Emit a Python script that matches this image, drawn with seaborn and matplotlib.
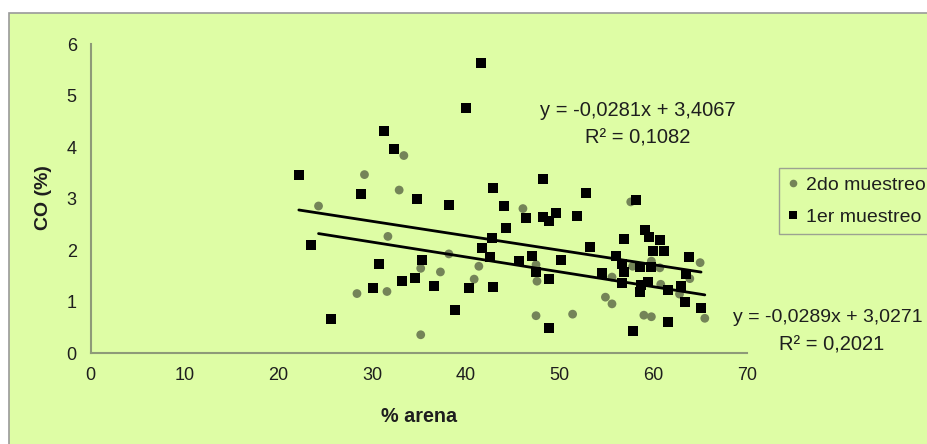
import matplotlib
matplotlib.use("Agg")
import matplotlib.pyplot as plt
import pandas as pd
import seaborn as sns
from matplotlib.patches import Rectangle
from matplotlib.lines import Line2D

# % arena vs CO (%) — first sampling (squares)
arena_1er = [22.2, 23.5, 25.6, 28.8, 30.1, 30.8, 31.3, 32.3, 33.2, 34.6,
             34.8, 35.3, 36.6, 38.2, 38.9, 40.0, 40.3, 41.6, 41.7, 42.6,
             42.8, 42.9, 42.9, 44.1, 44.3, 45.7, 46.4, 47.1, 47.5, 48.2,
             48.2, 48.9, 48.9, 48.9, 49.6, 50.2, 51.9, 52.8, 53.3, 54.5,
             56.0, 56.7, 56.9, 56.7, 56.9, 57.8, 58.2, 58.6, 58.7, 58.6,
             59.1, 59.5, 60.7, 60.0, 61.2, 59.8, 59.4, 61.6, 61.6, 63.0,
             63.4, 63.5, 63.8, 65.1]
co_1er = [3.47, 2.10, 0.67, 3.09, 1.26, 1.73, 4.31, 3.96, 1.40, 1.46,
          3.00, 1.81, 1.31, 2.88, 0.85, 4.77, 1.26, 5.63, 2.04, 1.87,
          2.24, 3.21, 1.29, 2.86, 2.44, 1.79, 2.62, 1.89, 1.58, 3.38,
          2.65, 2.57, 1.44, 0.50, 2.72, 1.81, 2.66, 3.12, 2.07, 1.55,
          1.89, 1.73, 1.58, 1.36, 2.22, 0.44, 2.97, 1.68, 1.32, 1.19,
          2.39, 2.25, 2.20, 1.98, 1.98, 1.68, 1.39, 1.23, 0.61, 1.31,
          1.00, 1.54, 1.87, 0.88]

# second sampling (circles)
arena_2do = [24.3, 28.4, 29.2, 31.6, 31.7, 32.9, 33.4, 35.2, 35.2, 37.3,
             38.2, 40.9, 41.4, 46.1, 47.5, 47.6, 47.5, 51.4, 54.9, 55.6,
             55.6, 57.6, 57.8, 59.0, 59.8, 59.8, 60.7, 60.8, 62.8, 63.9,
             65.0, 65.5]
co_2do = [2.86, 1.16, 3.47, 1.20, 2.27, 3.17, 3.84, 1.65, 0.36, 1.58,
          1.93, 1.44, 1.69, 2.81, 1.72, 1.40, 0.73, 0.76, 1.09, 0.96,
          1.48, 2.94, 1.69, 0.74, 0.71, 1.79, 1.66, 1.34, 1.15, 1.45,
          1.76, 0.68]

# linear trend lines (slope, intercept, R²)
slope_1er, inter_1er, r2_1er = -0.0281, 3.4067, 0.1082
slope_2do, inter_2do, r2_2do = -0.0289, 3.0271, 0.2021

label_1er = "1er muestreo"
label_2do = "2do muestreo"
x_ticks = [0, 10, 20, 30, 40, 50, 60, 70]
y_ticks = [0, 1, 2, 3, 4, 5, 6]

df_1er = pd.DataFrame({"arena": arena_1er, "co": co_1er})
df_2do = pd.DataFrame({"arena": arena_2do, "co": co_2do})

sns.set_style("white")
plt.rcParams["font.family"] = ["Liberation Sans", "DejaVu Sans"]

W, H = 928, 444
BG = "#DEFDA5"
AXIS_C = "#8E9A78"
TEXT_C = "#1e1e1e"
CIRCLE_C = "#748458"

fig = plt.figure(figsize=(W / 100, H / 100), dpi=100, facecolor="white")
fig.patches.append(Rectangle((9.5 / W, -0.2), 1.2, 1.2 - 13.5 / H,
                             transform=fig.transFigure, facecolor=BG,
                             edgecolor="#9a9a9a", lw=1.2, zorder=-10))

ax = fig.add_axes([90.7 / W, 1 - 353.3 / H, (747 - 90.7) / W, (353.3 - 44.3) / H])
ax.set_facecolor("none")
ax.patch.set_visible(False)

sns.scatterplot(data=df_2do, x="arena", y="co", ax=ax, marker="o", s=40,
                color=CIRCLE_C, edgecolor="none", linewidth=0, zorder=3)
sns.scatterplot(data=df_1er, x="arena", y="co", ax=ax, marker="s", s=48,
                color="black", edgecolor="black", linewidth=0, zorder=4)

for df, m, b in ((df_1er, slope_1er, inter_1er), (df_2do, slope_2do, inter_2do)):
    xs = [df["arena"].min(), df["arena"].max()]
    line = pd.DataFrame({"arena": xs, "co": [m * v + b for v in xs]})
    sns.lineplot(data=line, x="arena", y="co", ax=ax, color="black",
                 lw=2.0, zorder=5)

ax.set_xlim(0, 70)
ax.set_ylim(0, 6)
ax.set_xticks(x_ticks)
ax.set_yticks(y_ticks)
ax.tick_params(axis="both", which="major", direction="out", length=5,
               width=1.2, color=AXIS_C, labelsize=13, labelcolor=TEXT_C, pad=5)
for side in ("top", "right"):
    ax.spines[side].set_visible(False)
for side in ("left", "bottom"):
    ax.spines[side].set_color(AXIS_C)
    ax.spines[side].set_linewidth(1.5)

ax.set_xlabel("")
ax.set_ylabel("")
fig.text(419.5 / W, 1 - 416 / H, "% arena", ha="center", va="center",
         fontsize=14.2, fontweight="bold", color=TEXT_C)
fig.text(43.3 / W, 1 - 197.5 / H, "CO (%)", ha="center", va="center",
         rotation=90, fontsize=14, fontweight="bold", color=TEXT_C)


def fmt(v):
    return f"{v:.4f}".replace(".", ",")


EQ_FS = 14.5
fig.text(638 / W, 1 - 111 / H, f"y = {fmt(slope_1er)}x + {fmt(inter_1er)}",
         ha="center", va="center", fontsize=EQ_FS, color=TEXT_C)
fig.text(638 / W, 1 - 138 / H, f"R² = {fmt(r2_1er)}",
         ha="center", va="center", fontsize=EQ_FS, color=TEXT_C)
fig.text(923 / W, 1 - 317 / H, f"y = {fmt(slope_2do)}x + {fmt(inter_2do)}",
         ha="right", va="center", fontsize=14, color=TEXT_C)
fig.text(832 / W, 1 - 345 / H, f"R² = {fmt(r2_2do)}",
         ha="center", va="center", fontsize=EQ_FS, color=TEXT_C)

handles = [
    Line2D([], [], marker="o", ls="none", markersize=5.5, color=CIRCLE_C,
           markeredgewidth=0),
    Line2D([], [], marker="s", ls="none", markersize=6, color="black",
           markeredgewidth=0),
]
leg = fig.legend(handles, [label_2do, label_1er], loc="upper left",
                 bbox_to_anchor=(779.5 / W, 1 - 168.5 / H),
                 bbox_transform=fig.transFigure, frameon=True, fancybox=False,
                 fontsize=14, handlelength=0.6, handletextpad=0.35,
                 borderpad=0.42, labelspacing=0.72, borderaxespad=0)
leg.get_frame().set_facecolor(BG)
leg.get_frame().set_edgecolor("#8c8c8c")
leg.get_frame().set_linewidth(1.0)
for t in leg.get_texts():
    t.set_color(TEXT_C)

fig.savefig("out.png", dpi=100, facecolor="white")
